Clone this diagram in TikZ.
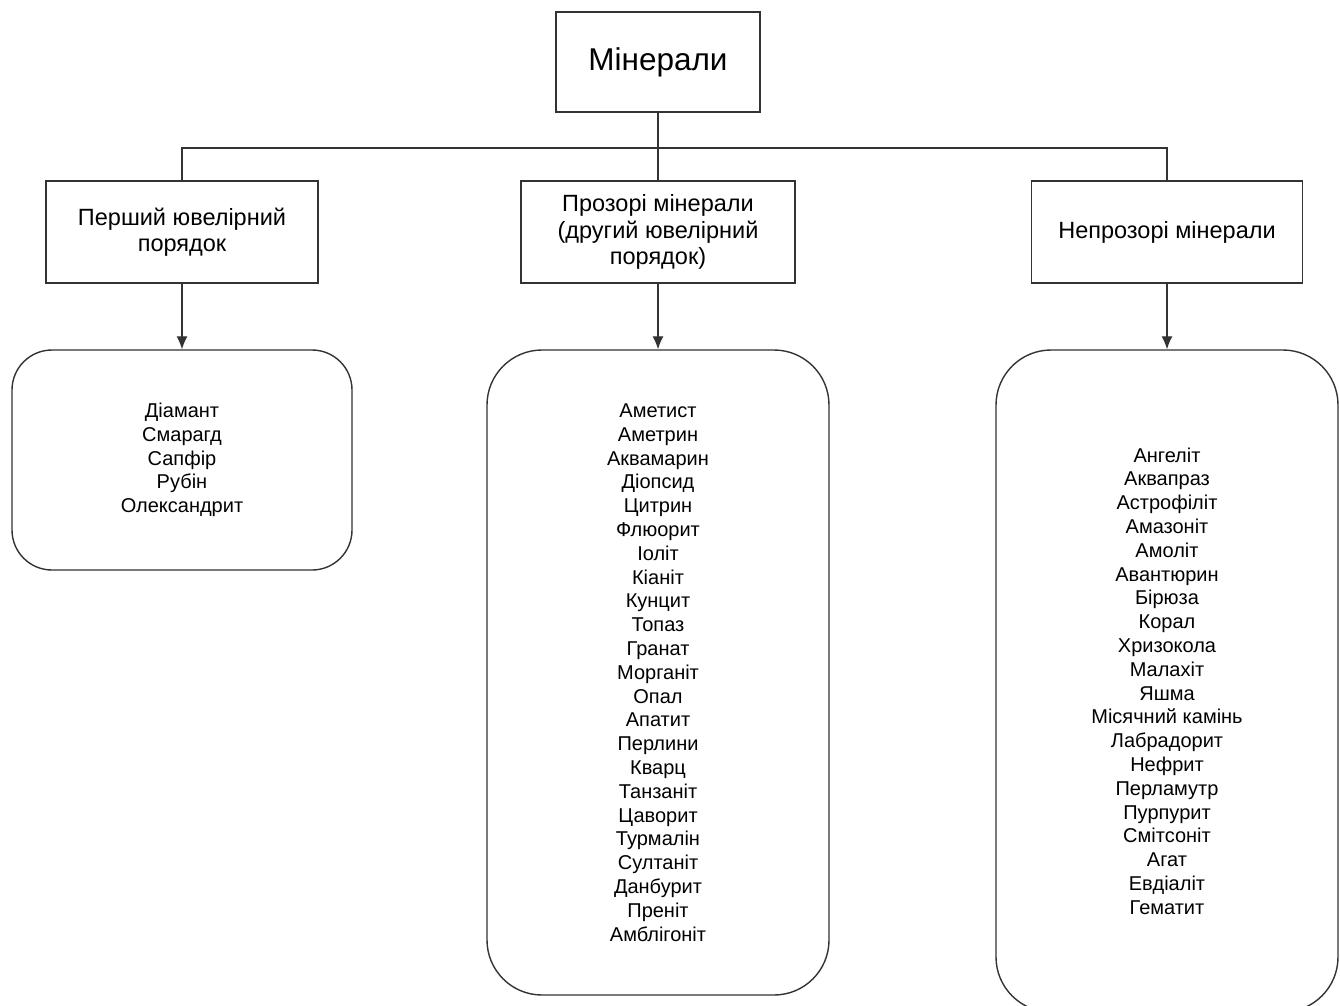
\documentclass[tikz,border=0pt]{standalone}
\usepackage{fontspec}
\setmainfont{Liberation Sans}
\usetikzlibrary{arrows.meta}
\colorlet{edgeln}{black!80}
\newcommand{\lstfont}{\fontsize{20}{23.8}\selectfont}
\newcommand{\hdrfont}{\fontsize{23.5}{26.5}\selectfont}
\tikzset{
  topbox/.style={draw=edgeln,line width=1.4pt,fill=white,
    minimum width=204pt,minimum height=100pt,
    font=\fontsize{31.5}{36}\selectfont},
  hdrbox/.style={draw=edgeln,line width=1.4pt,fill=white,
    minimum height=102pt,align=center,font=\hdrfont},
  lstbox/.style={draw=edgeln,line width=1.4pt,fill=white,
    align=center,font=\lstfont},
  wire/.style={edgeln,line width=1.2pt},
  arr/.style={wire,-{Latex[length=13pt,width=11pt]}}
}

\begin{document}
\begin{tikzpicture}[x=1pt,y=-1pt]
    % Background
    \useasboundingbox (0,0) rectangle (1340,1005);
    \clip (0,0) rectangle (1340,1005);
    % Boxes
    \node[topbox] (min) at (658,62) {Мінерали};
    \node[hdrbox,minimum width=272pt] (hdr1) at (182,232)
      {Перший ювелірний\\порядок};
    \node[hdrbox,minimum width=274pt] (hdr2) at (658,232)
      {Прозорі мінерали\\(другий ювелірний\\порядок)};
    \node[hdrbox,minimum width=271pt] (hdr3) at (1167,232)
      {Непрозорі мінерали};
    \node[lstbox,rounded corners=40pt,minimum width=340pt,minimum height=220pt]
      (lst1) at (182,460)
      {Діамант\\Смарагд\\Сапфір\\Рубін\\Олександрит};
    \node[lstbox,rounded corners=55pt,minimum width=342pt,minimum height=645pt]
      (lst2) at (658,672.5)
      {Аметист\\Аметрин\\Аквамарин\\Діопсид\\Цитрин\\Флюорит\\Іоліт\\Кіаніт\\
       Кунцит\\Топаз\\Гранат\\Морганіт\\Опал\\Апатит\\Перлини\\Кварц\\Танзаніт\\
       Цаворит\\Турмалін\\Султаніт\\Данбурит\\Преніт\\Амблігоніт};
    \node[lstbox,rounded corners=55pt,minimum width=342pt,minimum height=662pt]
      (lst3) at (1167,681)
      {Ангеліт\\Аквапраз\\Астрофіліт\\Амазоніт\\Амоліт\\Авантюрин\\Бірюза\\Корал\\
       Хризокола\\Малахіт\\Яшма\\Місячний камінь\\Лабрадорит\\Нефрит\\Перламутр\\
       Пурпурит\\Смітсоніт\\Агат\\Евдіаліт\\Гематит};
    % Wires
    \coordinate (bus) at (658,148);
    \draw[wire] (min) -- (hdr2);
    \draw[wire] (hdr1.north) |- (bus) -| (hdr3.north);
    \draw[arr] (hdr1) -- (lst1);
    \draw[arr] (hdr2) -- (lst2);
    \draw[arr] (hdr3) -- (lst3);
\end{tikzpicture}
\end{document}
